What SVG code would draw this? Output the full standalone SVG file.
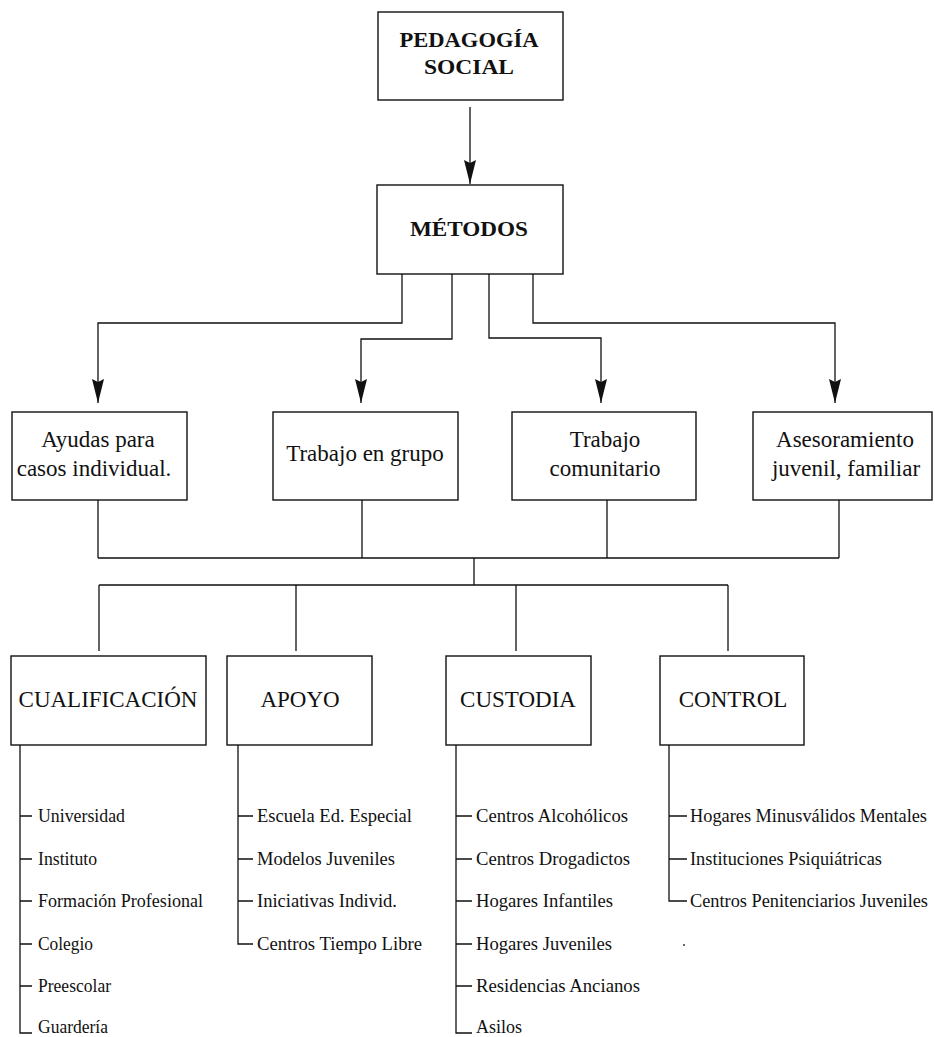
<svg xmlns="http://www.w3.org/2000/svg" width="935" height="1037" viewBox="0 0 935 1037">
<style>
.box{fill:#fff;stroke:#111;stroke-width:1.4}
.ln{fill:none;stroke:#111;stroke-width:1.3}
.t{font-family:"Liberation Serif","Times New Roman",serif;fill:#111;text-anchor:middle}
.tb{font-family:"Liberation Serif","Times New Roman",serif;font-weight:bold;font-size:21px;fill:#111;text-anchor:middle}
.m{font-size:23px}
.it{font-family:"Liberation Serif","Times New Roman",serif;font-size:18px;fill:#111}
</style>
<defs>
<marker id="ah" markerUnits="userSpaceOnUse" markerWidth="26" markerHeight="14" viewBox="0 -7 26 14" refX="24" refY="0" orient="auto">
<path d="M0,-6 L24,0 L0,6 L3,0 z" fill="#111"/>
</marker>
</defs>
<rect width="935" height="1037" fill="#fff"/>
<g id="connectors">
<path class="ln" d="M470,107 V184" marker-end="url(#ah)"/>
<path class="ln" d="M402,274 V323 H98 V403" marker-end="url(#ah)"/>
<path class="ln" d="M452,274 V339 H361 V403" marker-end="url(#ah)"/>
<path class="ln" d="M489,274 V338 H601 V403" marker-end="url(#ah)"/>
<path class="ln" d="M533,274 V323 H835 V403" marker-end="url(#ah)"/>
<path class="ln" d="M98,500 V558 M362,500 V558 M607,500 V558 M839,500 V558 M98,558 H839 M474,558 V585 M99,585 H728 M99,585 V651 M296,585 V651 M516,585 V651 M728,585 V651"/>
<path class="ln" d="M20,745 V1033 H32 M20,816 H32 M20,859 H32 M20,901 H32 M20,944 H32 M20,986 H32"/>
<path class="ln" d="M238,745 V944 H253 M238,816 H253 M238,859 H253 M238,901 H253"/>
<path class="ln" d="M456,745 V1033 H472 M456,816 H472 M456,859 H472 M456,901 H472 M456,944 H472 M456,986 H472"/>
<path class="ln" d="M669,745 V901 H687 M669,816 H687 M669,859 H687"/>
</g>
<g id="pedagogia">
<rect class="box" x="378" y="12" width="185" height="88"/>
<text class="tb" x="469" y="47" textLength="139" lengthAdjust="spacingAndGlyphs">PEDAGOGÍA</text>
<text class="tb" x="469" y="74" textLength="90" lengthAdjust="spacingAndGlyphs">SOCIAL</text>
</g>
<g id="metodos">
<rect class="box" x="377" y="185" width="186" height="89"/>
<text class="tb" x="469" y="236" textLength="118" lengthAdjust="spacingAndGlyphs">MÉTODOS</text>
</g>
<g id="ayudas">
<rect class="box" x="12" y="412" width="175" height="88"/>
<text class="t m" x="98" y="447">Ayudas para</text>
<text class="t m" x="94" y="476">casos individual.</text>
</g>
<g id="grupo">
<rect class="box" x="273" y="412" width="185" height="88"/>
<text class="t m" x="365" y="461">Trabajo en grupo</text>
</g>
<g id="comunitario">
<rect class="box" x="512" y="412" width="184" height="88"/>
<text class="t m" x="605" y="447">Trabajo</text>
<text class="t m" x="605" y="476">comunitario</text>
</g>
<g id="asesoramiento">
<rect class="box" x="753" y="412" width="179" height="88"/>
<text class="t m" x="845" y="447">Asesoramiento</text>
<text class="t m" x="846" y="476">juvenil, familiar</text>
</g>
<g id="cualificacion">
<rect class="box" x="11" y="656" width="195" height="89"/>
<text class="t m" x="108" y="707">CUALIFICACIÓN</text>
</g>
<g id="apoyo">
<rect class="box" x="227" y="656" width="145" height="89"/>
<text class="t m" x="300" y="707">APOYO</text>
</g>
<g id="custodia">
<rect class="box" x="446" y="656" width="145" height="89"/>
<text class="t m" x="518" y="707">CUSTODIA</text>
</g>
<g id="control">
<rect class="box" x="660" y="656" width="144" height="89"/>
<text class="t m" x="733" y="707">CONTROL</text>
</g>
<g id="list-cualificacion">
<text class="it" x="38" y="822" textLength="87" lengthAdjust="spacingAndGlyphs">Universidad</text>
<text class="it" x="38" y="865" textLength="59" lengthAdjust="spacingAndGlyphs">Instituto</text>
<text class="it" x="38" y="907" textLength="165" lengthAdjust="spacingAndGlyphs">Formación Profesional</text>
<text class="it" x="38" y="950" textLength="55" lengthAdjust="spacingAndGlyphs">Colegio</text>
<text class="it" x="38" y="992" textLength="73" lengthAdjust="spacingAndGlyphs">Preescolar</text>
<text class="it" x="38" y="1033" textLength="70" lengthAdjust="spacingAndGlyphs">Guardería</text>
</g>
<g id="list-apoyo">
<text class="it" x="257" y="822" textLength="155" lengthAdjust="spacingAndGlyphs">Escuela Ed. Especial</text>
<text class="it" x="257" y="865" textLength="138" lengthAdjust="spacingAndGlyphs">Modelos Juveniles</text>
<text class="it" x="257" y="907" textLength="140" lengthAdjust="spacingAndGlyphs">Iniciativas Individ.</text>
<text class="it" x="257" y="950" textLength="165" lengthAdjust="spacingAndGlyphs">Centros Tiempo Libre</text>
</g>
<g id="list-custodia">
<text class="it" x="476" y="822" textLength="152" lengthAdjust="spacingAndGlyphs">Centros Alcohólicos</text>
<text class="it" x="476" y="865" textLength="154" lengthAdjust="spacingAndGlyphs">Centros Drogadictos</text>
<text class="it" x="476" y="907" textLength="137" lengthAdjust="spacingAndGlyphs">Hogares Infantiles</text>
<text class="it" x="476" y="950" textLength="136" lengthAdjust="spacingAndGlyphs">Hogares Juveniles</text>
<text class="it" x="476" y="992" textLength="164" lengthAdjust="spacingAndGlyphs">Residencias Ancianos</text>
<text class="it" x="476" y="1033" textLength="46" lengthAdjust="spacingAndGlyphs">Asilos</text>
</g>
<g id="list-control">
<text class="it" x="690" y="822" textLength="237" lengthAdjust="spacingAndGlyphs">Hogares Minusválidos Mentales</text>
<text class="it" x="690" y="865" textLength="192" lengthAdjust="spacingAndGlyphs">Instituciones Psiquiátricas</text>
<text class="it" x="690" y="907" textLength="238" lengthAdjust="spacingAndGlyphs">Centros Penitenciarios Juveniles</text>
<circle cx="684" cy="945" r="1" fill="#333"/>
</g>
</svg>
